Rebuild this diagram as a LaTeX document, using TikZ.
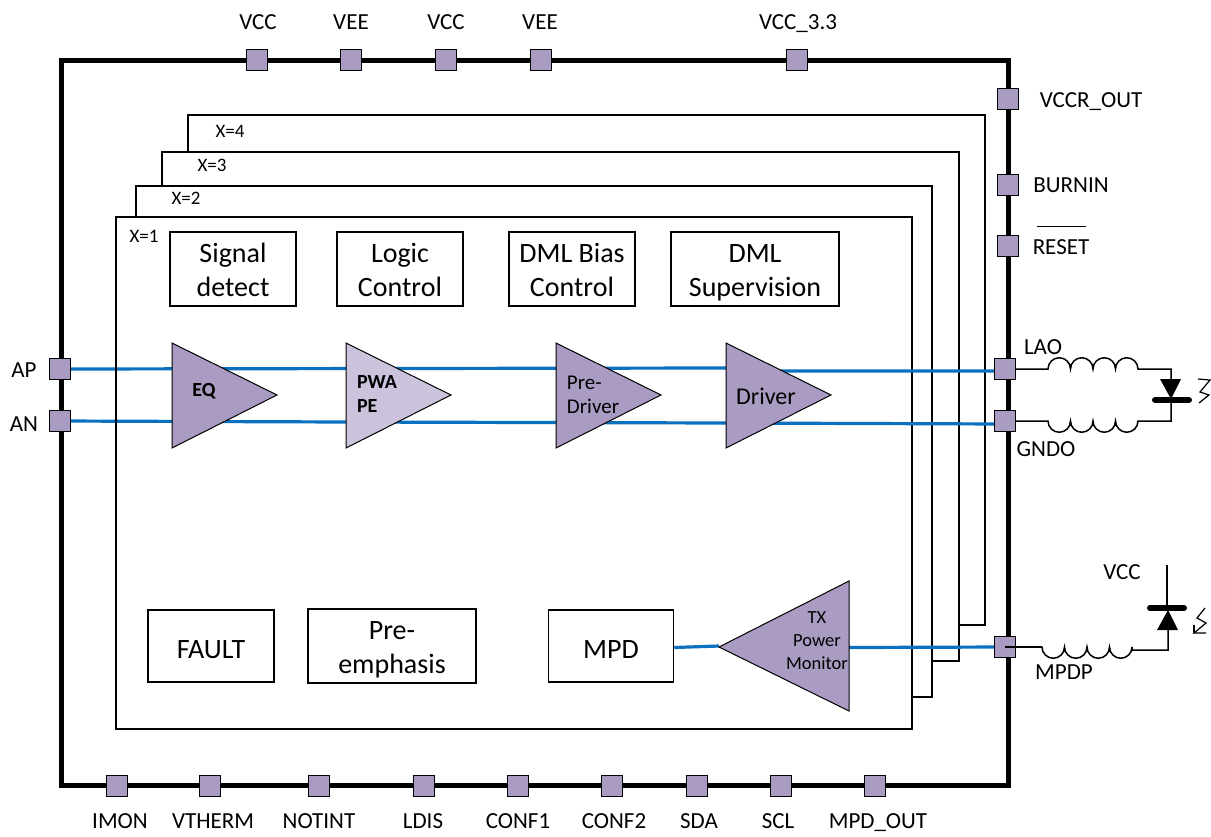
\documentclass[tikz,border=0pt]{standalone}
\usepackage{fontspec}
\setmainfont{Carlito}
\definecolor{pinpurple}{HTML}{A99BC1}
\definecolor{amplight}{HTML}{CBC2DC}
\definecolor{wireblue}{HTML}{0A70C0}
\newcommand{\lbl}{\fontsize{23}{26}\selectfont}
\newcommand{\boxfont}{\fontsize{28}{34}\selectfont}
\newcommand{\layerfont}{\fontsize{19}{22}\selectfont}
\tikzset{
	pin/.style={draw=black,line width=1.2pt,fill=pinpurple,minimum size=21pt,inner sep=0pt},
	sigbase/.style={draw=black,line width=1.5pt,fill=white,align=center,inner sep=0pt,font=\boxfont},
	sig/.style={sigbase,execute at begin node={\rule[-10pt]{0pt}{74pt}}},
	sigone/.style={sigbase,execute at begin node={\rule[-10pt]{0pt}{44pt}}},
	amp/.style={draw=black,line width=1pt,fill=pinpurple},
	wire/.style={draw=wireblue,line width=3.2pt},
	lead/.style={line width=1.5pt},
	frame/.style={line width=1.8pt},
	txt/.style={font=\lbl,inner sep=0pt,text height=15pt,text depth=0pt},
	amptxt/.style={inner sep=0pt}
}
\begin{document}
\begin{tikzpicture}[x=1pt,y=1pt]
	\useasboundingbox (0,0) rectangle (1211,-836);
	%Khung ngoai
	\draw [line width=5pt] (61,-60) rectangle (1008,-785);
	%Lop X=4, X=3, X=2
	\draw [frame] (188,-152)--(188,-115)--(985,-115)--(985,-625)--(958,-625);
	\draw [frame] (162,-186)--(162,-152)--(959,-152)--(959,-661)--(932,-661);
	\draw [frame] (136,-217)--(136,-186)--(932,-186)--(932,-697)--(912,-697);
	%Lop X=1
	\draw [frame] (116,-217) rectangle (912,-729);
	\node [amptxt,font=\layerfont] (x4) at (230,-131) {X=4};
	\node [amptxt,font=\layerfont] (x3) at (212,-165) {X=3};
	\node [amptxt,font=\layerfont] (x2) at (186,-198) {X=2};
	\node [amptxt,font=\layerfont] (x1) at (144,-236) {X=1};
	%Khoi tren
	\node [sig,minimum width=126pt,minimum height=72pt] (sigdet) at (233,-269) {Signal\\detect};
	\node [sig,minimum width=126pt,minimum height=72pt] (logic) at (400,-269) {Logic\\Control};
	\node [sig,minimum width=126pt,minimum height=72pt] (bias) at (572,-269) {DML Bias\\Control};
	\node [sig,minimum width=168pt,minimum height=72pt] (superv) at (755,-269) {DML\\Supervision};
	%Khoi duoi
	\node [sigone,minimum width=126pt,minimum height=72pt] (fault) at (211,-646) {FAULT};
	\node [sig,minimum width=168pt,minimum height=72pt] (preemph) at (392,-646) {Pre-\\emphasis};
	\node [sigone,minimum width=125pt,minimum height=72pt] (mpd) at (611,-646) {MPD};
	%Chan tren
	\foreach \name/\px/\txt in {vcca/258/VCC,veea/351/VEE,vccb/446/VCC,veeb/540/VEE,vccc/798/VCC\_3.3}{
		\node [txt] (\name lb) at (\px,-22) {\txt};
	}
	%Chan duoi
	\foreach \name/\lx/\txt in {imon/120/IMON,vtherm/213/VTHERM,notint/319/NOTINT,ldis/423/LDIS,confa/518/CONF1,confb/614/CONF2,sda/699/SDA,scl/778/SCL,mpdout/878/MPD\_OUT}{
		\node [txt] (\name lb) at (\lx,-821) {\txt};
	}
	%Chan phai, trai
	\node [txt] (vccrlb) at (1091,-100) {VCCR\_OUT};
	\node [txt] (burnlb) at (1071,-185) {BURNIN};
	\node [txt] (resetlb) at (1061,-247) {RESET};
	\draw [line width=1pt] (1037,-226)--(1086,-226);
	\node [txt] (laolb) at (1043,-347) {LAO};
	\node [txt] (gndolb) at (1046,-449) {GNDO};
	\node [txt] (mpdplb) at (1064,-672) {MPDP};
	\node [txt] (vcclb) at (1122,-572) {VCC};
	\node [txt] (aplb) at (24,-370) {AP};
	\node [txt] (anlb) at (24,-424) {AN};
	%Chan
	\coordinate (ap) at (60,-369);
	\coordinate (an) at (60,-421);
	\coordinate (lao) at (1005,-369);
	\coordinate (gndo) at (1005,-421);
	\coordinate (mpdp) at (1005,-647);
	%Day tin hieu
	\draw [wire] (ap)--(726,-368)--(745,-371)--([yshift=-2pt]lao);
	\draw [wire] (an)--(346,-422)--(726,-423)--([yshift=-3pt]gndo);
	\draw [wire] ([yshift=-1.5pt]mpd.east)--(719,-646);
	\draw [wire] (849,-647.5)--(mpdp);
	\draw [frame] (116,-217)--(116,-729);
	%Tam giac
	\draw [amp] (172,-343)--(277,-395)--(172,-448)--cycle;
	\draw [amp,fill=amplight] (346,-343)--(451,-395)--(346,-448)--cycle;
	\draw [amp] (556,-343)--(661,-395)--(556,-448)--cycle;
	\draw [amp] (726,-343)--(831,-395)--(726,-448)--cycle;
	\draw [amp] (849,-581)--(849,-711)--(719,-647)--cycle;
	\node [amptxt,font=\fontsize{20}{24}\bfseries\selectfont] (eq) at (204,-391) {EQ};
	\node [amptxt,font=\fontsize{20}{24}\bfseries\selectfont,align=left] (pwape) at (377,-394) {PWA\\PE};
	\node [amptxt,font=\fontsize{21}{24}\selectfont,align=left] (predrv) at (593,-395) {Pre-\\Driver};
	\node [amptxt,font=\fontsize{24}{26}\selectfont] (drv) at (766,-396) {Driver};
	\node [amptxt,font=\fontsize{18.5}{23}\selectfont,align=center] (txmon) at (817,-641) {TX\\Power\\Monitor};
	%Cuon cam va LED
	\draw [lead] (lao)--(1048,-369) \foreach \i in {1,...,4}{arc (180:0:11.25)}
		--(1171,-369)--(1171,-421)--(1138,-421)
		\foreach \i in {1,...,4}{arc (0:-180:11.25)}--(gndo);
	\fill (1160,-379)--(1181,-379)--(1171,-399)--cycle;
	\draw [line width=6pt,line cap=round] (1155,-400)--(1189,-400);
	\draw [line width=1.2pt] (1198,-379)--(1210,-380)--(1200,-392)--(1209,-395)--(1199,-403);
	\draw [lead] (mpdp)--(1042,-647) \foreach \i in {1,...,4}{arc (180:360:11.25)}
		--(1132,-650)--(1168,-650)--(1168,-608);
	\draw [lead] (1167,-608)--(1167,-565);
	\fill (1157,-630)--(1178,-630)--(1168,-610)--cycle;
	\draw [line width=6pt,line cap=round] (1150,-608)--(1184,-608);
	\draw [line width=1.2pt] (1205,-608)--(1197,-618)--(1206,-623)--(1194,-633)--(1206,-633);
	\draw [line width=1.2pt] (1194,-633)--(1194,-625);
	%O chan
	\foreach \name/\px/\py in {vcca/257/60,veea/351/60,vccb/446/60,veeb/541/60,vccc/797/60,imon/117/786,vtherm/210/786,notint/319/786,ldis/424/786,confa/518/786,confb/612/786,sda/697/786,scl/781/786,mpdout/875/786,vccr/1008/99,burnin/1008/185,reset/1008/246,laop/1005/369,gndop/1005/421,mpdpp/1005/647,app/60/369,anp/60/421}{
		\node [pin] (\name) at (\px,-\py) {};
	}
	\draw [lead] (mpdp)--(1042,-647);
\end{tikzpicture}
\end{document}
